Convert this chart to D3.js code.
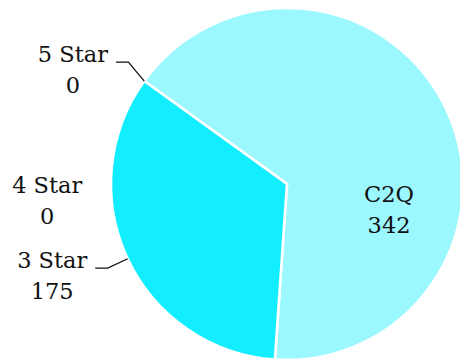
<!DOCTYPE html>
<html><head><meta charset="utf-8">
<script src="https://cdn.jsdelivr.net/npm/d3@7"></script>
<style>html,body{margin:0;padding:0;background:#fff;overflow:hidden}</style>
</head><body>
<svg id="chart" width="460" height="360"></svg>
<script>
// ---- data ----
const categories = ["C2Q", "3 Star", "4 Star", "5 Star"];
const values = [342, 175, 0, 0];
const colors = ["#9cf8ff", "#12eeff", "#00c8e0", "#00a8c0"];

// ---- layout ----
const W = 460, H = 360;
const cx = 287, cy = 184, R = 176;
const startDeg = -54.2;
const FONT = "'DejaVu Serif', serif", FS = 22.5, LH = 31;
const elbowOut = 22, hLen = 12.5, textGap = 8;
// label adjustments (text placement only)
const labelNudge = {"5 Star": {dy: -6}, "4 Star": {stackAbove: "3 Star", spacing: 75, noLine: true, fromCircle: 29}};
const insideLabels = {"C2Q": {angleShiftDeg: 38, rf: 0.595}};

const svg = d3.select("#chart");
const g = svg.append("g").attr("transform", `translate(${cx},${cy})`);
const data = categories.map((c, i) => ({cat: c, value: values[i], color: colors[i]}));
const a0 = startDeg * Math.PI / 180;
const pie = d3.pie().sort(null).value(d => d.value).startAngle(a0).endAngle(a0 + 2 * Math.PI);
const arcs = pie(data);
const arc = d3.arc().innerRadius(0).outerRadius(R);

g.selectAll("path.slice").data(arcs.filter(d => d.value > 0)).join("path")
  .attr("class", "slice")
  .attr("d", arc)
  .attr("fill", d => d.data.color)
  .attr("stroke", "#fff").attr("stroke-width", 2.6).attr("stroke-linejoin", "miter");

const polar = (ang, rad) => [rad * Math.sin(ang), -rad * Math.cos(ang)];

// outside labels: compute natural positions
const outside = {};
arcs.forEach(d => {
  if (insideLabels[d.data.cat]) return;
  const mid = (d.startAngle + d.endAngle) / 2;
  const P = polar(mid, R);
  const E = polar(mid, R + elbowOut);
  outside[d.data.cat] = {d, P, E, y: E[1], side: Math.sin(mid) < 0 ? -1 : 1};
});
Object.keys(labelNudge).forEach(k => {
  const o = outside[k], n = labelNudge[k];
  if (!o) return;
  if (n.dy) { o.y += n.dy; o.E = [o.E[0] + 2, o.y]; }
  if (n.stackAbove) {
    o.y = outside[n.stackAbove].y - n.spacing;
    o.noLine = n.noLine;
    const cxAt = -Math.sqrt(R * R - o.y * o.y);
    o.textEdge = cxAt - n.fromCircle;
  }
});

const lg = g.append("g");
Object.values(outside).forEach(o => {
  const lineEndX = o.E[0] + o.side * hLen;
  if (!o.noLine) {
    lg.append("path")
      .attr("d", d3.line()([o.P, o.E, [lineEndX, o.y]]))
      .attr("fill", "none").attr("stroke", "#111").attr("stroke-width", 1.3);
  }
  const edge = o.textEdge !== undefined ? o.textEdge : lineEndX + o.side * textGap;
  const t = lg.append("text").attr("font-family", FONT).attr("font-size", FS).attr("fill", "#111")
    .attr("text-anchor", "middle");
  const l1 = t.append("tspan").text(o.d.data.cat).attr("y", o.y);
  const l2 = t.append("tspan").text(d3.format("d")(o.d.value)).attr("y", o.y + LH);
  const w = Math.max(l1.node().getComputedTextLength(), l2.node().getComputedTextLength());
  const xc = edge + o.side * w / 2;
  l1.attr("x", xc); l2.attr("x", xc);
});

// inside labels
arcs.forEach(d => {
  const il = insideLabels[d.data.cat];
  if (!il) return;
  const mid = (d.startAngle + d.endAngle) / 2 + il.angleShiftDeg * Math.PI / 180;
  const [x, y] = polar(mid, R * il.rf);
  const t = lg.append("text").attr("font-family", FONT).attr("font-size", FS).attr("fill", "#111")
    .attr("text-anchor", "middle");
  t.append("tspan").attr("x", x).attr("y", y - 5).text(d.data.cat);
  t.append("tspan").attr("x", x).attr("y", y - 5 + LH).text(d3.format("d")(d.value));
});
</script>
</body></html>
